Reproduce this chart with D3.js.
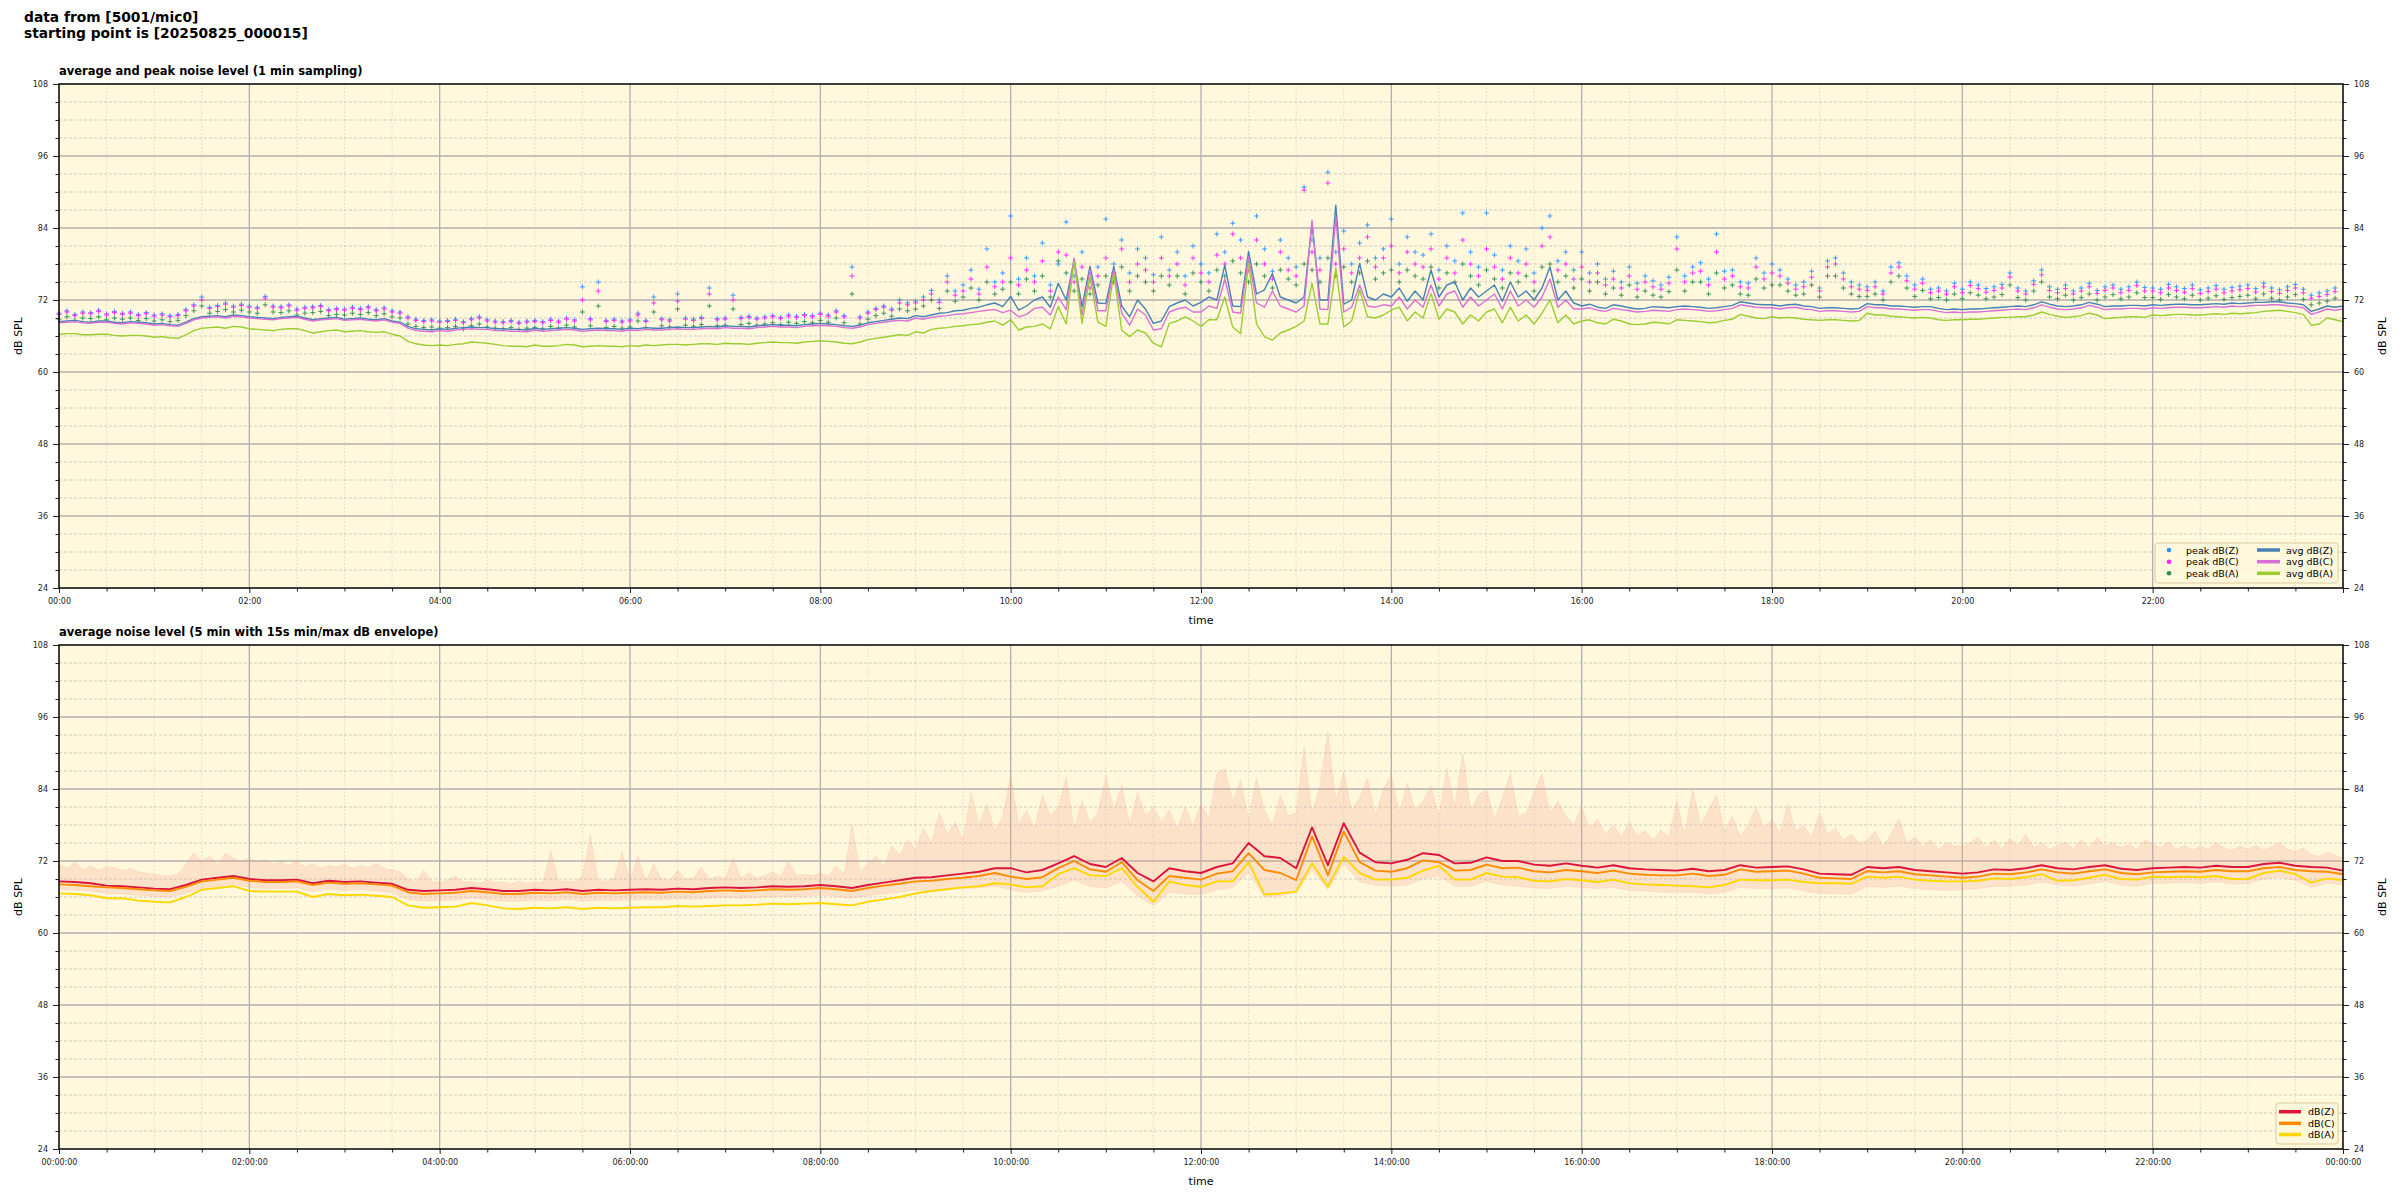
<!DOCTYPE html>
<html><head><meta charset="utf-8">
<script src="https://cdn.jsdelivr.net/npm/d3@7"></script>
<style>
body{margin:0;background:#fff;}
text{font-family:"DejaVu Sans",sans-serif;}
</style>
</head><body>
<svg id="c" width="2400" height="1200"></svg>
<script>
// ---------- tick labels / categories ----------
const topXLabels = ["00:00","02:00","04:00","06:00","08:00","10:00","12:00","14:00","16:00","18:00","20:00","22:00"];
const botXLabels = ["00:00:00","02:00:00","04:00:00","06:00:00","08:00:00","10:00:00","12:00:00","14:00:00","16:00:00","18:00:00","20:00:00","22:00:00","00:00:00"];
const yTickLabels = [24,36,48,60,72,84,96,108];
const topLegend = ["peak dB(Z)","peak dB(C)","peak dB(A)","avg dB(Z)","avg dB(C)","avg dB(A)"];
const botLegend = ["dB(Z)","dB(C)","dB(A)"];

// time grids in minutes (values read every 10 / 5 minutes)
const t10 = d3.range(0, 1441, 10);
const t5 = d3.range(0, 1441, 5);

// ---------- top panel: avg lines (read every 5 min) ----------
const avgZ = [
68.4,68.5,68.6,68.4,68.3,68.5,68.5,68.3,68.2,68.4,68.3,68.2, 68.0,68.1,67.9,67.8,68.3,68.9,69.2,69.3,69.4,69.2,69.5,69.4,
69.2,69.1,69.0,68.9,69.1,69.2,69.3,69.0,68.7,68.9,69.0,69.1, 68.8,68.9,69.0,68.8,68.7,68.9,68.5,68.3,67.6,67.2,67.1,67.0,
67.2,67.1,67.3,67.4,67.5,67.4,67.4,67.2,67.2,67.1,67.1,67.0, 67.3,67.1,67.2,67.3,67.4,67.3,67.1,67.2,67.3,67.2,67.2,67.1,
67.3,67.2,67.4,67.3,67.3,67.4,67.5,67.4,67.4,67.5,67.6,67.5, 67.7,67.6,67.6,67.5,67.7,67.8,67.9,67.8,67.8,67.7,67.9,68.0,
68.1,68.0,67.9,67.7,67.6,67.8,68.2,68.4,68.6,68.8,69.0,68.9, 69.4,69.2,69.5,69.8,69.9,70.2,70.3,70.6,70.8,71.2,71.5,70.9,
72.6,70.3,71.0,72.0,72.5,70.8,74.8,72.0,78.7,70.9,77.6,71.5, 71.4,77.6,71.0,69.2,72.0,70.5,68.1,68.5,70.9,71.5,72.0,71.0,
71.6,72.5,72.0,77.8,71.0,70.9,80.1,73.0,73.7,76.4,72.5,72.0, 71.5,72.5,84.8,72.0,72.0,87.8,71.3,72.0,78.1,72.5,72.0,73.0,
72.5,74.0,71.8,73.5,72.0,77.0,72.5,74.5,75.0,72.0,74.0,72.5, 73.5,74.5,71.8,75.0,72.5,73.5,72.0,74.0,77.5,72.0,73.5,71.5,
71.0,71.3,70.8,70.6,71.2,71.0,70.7,70.5,70.6,70.9,70.8,70.7, 70.9,71.0,70.9,70.8,70.6,70.7,70.9,71.1,71.7,71.5,71.3,71.2,
71.2,71.0,71.2,71.3,71.0,70.9,70.6,70.7,70.7,70.6,70.5,70.6, 71.4,71.2,71.2,71.0,71.0,70.9,70.8,70.9,70.9,70.6,70.4,70.5,
70.4,70.5,70.5,70.6,70.7,70.8,70.9,71.0,70.9,71.2,71.7,71.3, 71.0,70.9,71.0,71.2,71.6,71.3,70.9,71.0,71.0,71.1,71.1,71.0,
71.2,71.1,71.2,71.3,71.3,71.2,71.2,71.3,71.4,71.3,71.5,71.4, 71.5,71.6,71.6,71.7,71.7,71.5,71.4,71.2,70.1,70.5,71.0,70.8, 71.0];
const avgC = [
68.2,68.3,68.4,68.2,68.1,68.3,68.3,68.1,68.0,68.2,68.1,68.0, 67.8,67.9,67.7,67.6,68.1,68.7,69.0,69.1,69.2,69.0,69.3,69.2,
69.0,68.9,68.8,68.7,68.9,69.0,69.1,68.8,68.5,68.7,68.8,68.9, 68.6,68.7,68.8,68.6,68.5,68.7,68.3,68.1,67.3,66.9,66.8,66.7,
66.9,66.8,67.0,67.1,67.2,67.1,67.1,66.9,66.9,66.8,66.8,66.7, 67.0,66.8,66.9,67.0,67.1,67.0,66.8,66.9,67.0,66.9,66.9,66.8,
67.0,66.9,67.1,67.0,67.0,67.1,67.2,67.1,67.1,67.2,67.3,67.2, 67.4,67.3,67.3,67.2,67.4,67.5,67.6,67.5,67.5,67.4,67.6,67.7,
67.8,67.7,67.6,67.4,67.3,67.5,67.9,68.1,68.3,68.5,68.6,68.5, 69.0,68.8,69.1,69.3,69.4,69.6,69.7,69.9,70.1,70.3,70.4,69.9,
70.3,69.2,69.6,70.6,70.8,69.5,72.5,70.4,79.0,69.5,77.0,70.2, 70.2,77.0,69.8,67.8,70.5,69.5,67.0,67.2,70.0,70.5,70.8,70.0,
70.0,71.0,70.6,75.5,70.0,69.8,79.2,71.5,70.8,73.5,71.0,70.5, 70.0,71.0,85.3,70.5,70.4,85.9,70.0,70.8,74.5,71.0,70.8,71.2,
71.0,72.5,70.5,72.0,70.8,74.5,71.0,73.0,73.5,70.8,72.5,71.0, 72.0,73.0,70.5,73.5,71.0,72.0,70.8,72.5,75.5,70.8,72.0,70.5,
70.5,70.7,70.3,70.1,70.6,70.4,70.2,70.0,70.1,70.3,70.2,70.1, 70.4,70.5,70.4,70.3,70.1,70.2,70.4,70.6,71.2,71.0,70.8,70.7,
70.7,70.5,70.7,70.8,70.5,70.4,70.1,70.2,70.2,70.1,70.0,70.1, 70.9,70.7,70.7,70.5,70.5,70.4,70.3,70.4,70.4,70.1,69.9,70.0,
69.9,70.0,70.0,70.1,70.2,70.3,70.4,70.5,70.4,70.7,71.2,70.8, 70.5,70.4,70.5,70.7,71.1,70.8,70.4,70.5,70.5,70.6,70.6,70.5,
70.7,70.6,70.7,70.8,70.8,70.7,70.7,70.8,70.9,70.8,71.0,70.9, 71.0,71.1,71.1,71.2,71.2,71.0,70.9,70.7,69.6,70.0,70.5,70.3, 70.5];
const avgA = [
66.3,66.4,66.4,66.2,66.2,66.3,66.3,66.1,66.0,66.1,66.1,66.0, 65.8,65.9,65.7,65.6,66.2,66.9,67.3,67.4,67.5,67.3,67.6,67.5,
67.2,67.1,67.0,66.9,67.1,67.2,67.2,66.9,66.5,66.7,66.9,67.0, 66.7,66.8,66.9,66.7,66.6,66.7,66.3,66.0,65.1,64.7,64.5,64.4,
64.5,64.4,64.6,64.7,65.0,64.9,64.8,64.6,64.4,64.3,64.3,64.2, 64.5,64.3,64.3,64.4,64.6,64.5,64.2,64.3,64.4,64.3,64.3,64.2,
64.4,64.3,64.5,64.4,64.5,64.6,64.6,64.5,64.6,64.7,64.7,64.6, 64.8,64.7,64.7,64.6,64.8,64.9,65.0,64.9,64.9,64.8,65.0,65.1,
65.2,65.1,65.0,64.8,64.7,65.0,65.4,65.6,65.8,66.0,66.2,66.1, 66.7,66.5,67.1,67.3,67.4,67.6,67.7,67.9,68.0,68.3,68.5,67.8,
68.7,67.0,67.5,67.6,68.0,67.2,70.9,68.0,78.4,68.1,75.9,68.3, 67.6,76.4,67.0,65.9,67.0,66.5,64.8,64.2,68.1,68.5,69.2,68.5,
67.6,68.7,68.7,72.5,67.5,66.4,78.1,68.0,65.9,65.3,66.5,67.0, 67.6,68.5,74.8,68.0,68.0,77.3,67.5,68.5,73.7,69.2,69.0,69.5,
70.3,70.8,68.5,70.0,69.0,73.1,68.8,70.5,70.0,68.0,69.5,68.5, 70.0,70.5,68.2,70.8,68.5,69.5,68.0,69.8,72.0,68.2,69.5,68.0,
68.5,68.7,68.2,68.0,68.8,68.5,68.0,67.9,68.0,68.3,68.2,68.0, 68.7,68.6,68.5,68.4,68.2,68.3,68.6,68.8,69.6,69.3,69.0,68.9,
69.2,69.0,69.1,69.0,68.8,68.7,68.6,68.7,68.7,68.6,68.5,68.6, 69.8,69.5,69.5,69.3,69.2,69.1,69.0,69.1,69.0,68.7,68.6,68.7,
68.7,68.8,68.8,68.9,69.0,69.1,69.1,69.2,69.2,69.5,70.0,69.6, 69.3,69.1,69.2,69.4,69.8,69.5,68.9,69.0,69.1,69.2,69.2,69.1,
69.5,69.4,69.5,69.6,69.6,69.5,69.5,69.6,69.7,69.6,69.8,69.7, 69.8,69.9,70.1,70.2,70.3,70.1,69.9,69.6,67.8,68.0,69.0,68.7, 68.4];

// ---------- top panel: peak values (read every 5 min) ----------
const peakZ = [
69.8,70.2,69.6,70.0,69.9,70.3,69.7,70.1,69.8,70.0,69.6,69.9, 69.5,69.7,69.4,69.6,70.4,71.2,72.5,70.8,71.1,71.5,71.0,71.3,
71.0,70.8,72.6,71.0,70.9,71.2,70.5,70.8,70.9,71.1,70.4,70.6, 70.5,70.8,70.6,70.9,70.4,70.7,70.2,70.0,69.2,68.8,68.6,68.7,
68.5,68.6,68.8,68.4,68.9,69.2,68.7,68.5,68.4,68.6,68.3,68.5, 68.6,68.4,68.8,68.5,69.0,68.7,74.2,68.9,75.0,68.6,68.8,68.5,
68.7,69.8,68.6,72.5,68.9,68.7,73.0,69.0,68.8,69.1,74.0,68.9, 69.0,72.8,69.1,69.3,69.0,69.2,69.4,69.1,69.5,69.3,69.6,69.4,
69.8,69.5,70.2,69.4,77.5,69.2,70.0,70.6,71.0,70.5,72.0,71.5, 71.8,72.5,73.6,72.0,76.0,73.5,74.5,77.0,73.8,80.5,75.0,76.5,
86.0,75.5,79.0,76.0,81.5,74.5,78.0,85.0,76.0,80.0,75.2,77.5, 85.5,78.0,82.0,76.5,80.5,79.0,76.2,82.5,77.0,80.0,76.0,81.0,
78.0,76.5,83.0,80.0,84.8,82.0,78.5,86.0,80.5,76.8,82.0,79.0, 77.5,90.8,82.0,79.0,93.3,80.0,83.5,78.0,81.5,84.5,79.0,80.5,
85.5,78.0,82.5,80.0,79.5,83.0,77.0,81.0,78.5,86.5,80.0,77.5, 86.5,79.5,77.0,81.0,78.5,80.5,76.5,84.0,86.0,78.5,80.0,77.0,
80.0,76.5,78.0,75.5,76.8,75.0,77.5,74.8,76.0,75.2,74.5,75.8, 82.5,76.0,77.5,78.2,75.5,83.0,76.8,77.0,75.0,74.8,79.0,76.5,
78.0,77.0,75.5,74.5,75.0,76.8,74.0,78.5,79.0,76.5,75.0,74.5, 74.2,75.0,73.5,77.5,78.2,76.0,74.5,75.5,73.8,74.0,73.5,74.8,
73.8,75.0,74.5,73.9,74.2,74.6,76.5,74.0,73.5,75.2,77.0,74.2, 73.8,74.5,73.5,74.0,74.8,73.6,74.2,74.5,73.8,74.2,75.0,74.1,
74.0,73.8,74.6,74.2,73.9,74.5,73.7,74.0,74.4,73.8,74.1,74.3, 74.5,73.9,74.8,74.0,73.7,74.2,74.6,73.8,72.8,73.2,73.5,74.0];
const peakC = [
69.6,70.0,69.4,69.8,69.7,70.1,69.5,69.9,69.6,69.8,69.4,69.7, 69.3,69.5,69.2,69.4,70.2,71.0,72.0,70.6,70.9,71.3,70.8,71.1,
70.8,70.6,72.3,70.8,70.7,71.0,70.3,70.6,70.7,70.9,70.2,70.4, 70.3,70.6,70.4,70.7,70.2,70.5,70.0,69.8,69.0,68.6,68.4,68.5,
68.3,68.4,68.6,68.2,68.7,69.0,68.5,68.3,68.2,68.4,68.1,68.3, 68.4,68.2,68.6,68.3,68.8,68.5,72.0,68.7,73.5,68.4,68.6,68.3,
68.5,69.5,68.4,71.5,68.7,68.5,71.8,68.8,68.6,68.9,73.0,68.7, 68.8,72.0,68.9,69.1,68.8,69.0,69.2,68.9,69.3,69.1,69.4,69.2,
69.6,69.3,70.0,69.2,76.0,69.0,69.8,70.4,70.8,70.3,71.5,71.2, 71.5,72.0,73.0,71.6,75.0,72.8,73.5,75.5,73.0,77.5,74.2,75.0,
79.0,74.5,77.0,75.0,78.5,73.5,80.0,79.5,75.0,77.5,74.0,76.0, 79.0,76.5,80.5,75.0,78.0,77.0,75.0,79.0,76.0,78.0,74.5,79.0,
76.5,75.0,79.5,78.0,83.0,79.0,77.0,82.0,78.0,75.5,80.0,77.0, 76.0,90.3,80.0,77.0,91.5,78.0,80.5,76.5,79.0,82.5,77.5,79.0,
81.0,76.5,80.0,78.0,77.5,80.5,75.5,79.0,76.5,82.0,78.0,76.0, 80.5,77.5,75.5,79.0,76.5,78.0,75.0,81.0,82.5,77.0,78.0,75.5,
77.5,75.0,76.5,74.5,75.5,74.0,76.0,73.8,75.0,74.2,73.8,74.8, 80.5,75.0,76.5,76.8,74.5,80.0,75.5,76.0,74.2,74.0,77.5,75.5,
76.5,76.0,74.8,73.8,74.2,75.8,73.5,77.5,78.0,75.5,74.2,73.8, 73.6,74.2,73.0,76.5,77.5,75.2,73.8,74.8,73.2,73.5,73.0,74.2,
73.2,74.4,73.9,73.3,73.6,74.0,75.8,73.5,73.0,74.6,76.2,73.6, 73.2,73.9,73.0,73.5,74.2,73.1,73.6,74.0,73.2,73.6,74.4,73.5,
73.5,73.2,74.0,73.6,73.3,73.9,73.1,73.4,73.8,73.2,73.5,73.7, 73.9,73.3,74.2,73.4,73.1,73.6,74.0,73.2,72.3,72.6,72.9,73.4];
const peakA = [
68.8,69.2,68.6,69.0,68.9,69.2,68.7,69.0,68.8,69.0,68.6,68.9, 68.5,68.7,68.4,68.6,69.4,70.2,71.0,69.8,70.1,70.4,70.0,70.3,
70.0,69.8,71.2,70.0,69.9,70.2,69.5,69.8,69.9,70.1,69.4,69.6, 69.5,69.8,69.6,69.9,69.4,69.7,69.2,69.0,68.0,67.6,67.4,67.5,
67.3,67.4,67.6,67.2,67.7,68.0,67.5,67.3,67.2,67.4,67.1,67.3, 67.4,67.2,67.6,67.3,67.8,67.5,70.0,67.7,71.0,67.4,67.6,67.3,
67.5,68.5,67.4,70.0,67.7,67.5,70.5,67.8,67.6,67.9,71.0,67.7, 67.8,70.5,67.9,68.1,67.8,68.0,68.2,67.9,68.3,68.1,68.4,68.2,
68.6,68.3,69.0,68.2,73.0,68.0,68.8,69.4,69.8,69.3,70.5,70.2, 70.5,71.0,72.0,70.6,73.5,71.8,72.5,74.0,72.0,75.0,73.0,73.8,
75.0,73.0,75.5,73.5,76.0,72.5,78.5,76.5,73.5,75.5,73.0,74.5, 76.0,75.0,77.5,73.5,76.0,75.0,73.5,76.0,74.5,76.0,73.0,76.5,
75.0,73.5,77.0,76.0,78.5,76.5,75.0,78.0,76.0,74.0,77.0,75.5, 74.5,78.0,77.0,75.0,79.0,76.0,77.5,75.0,76.5,78.5,75.5,76.5,
77.0,75.0,77.0,76.0,75.5,77.5,74.0,76.5,75.0,78.0,76.0,74.5, 77.0,75.5,74.0,76.5,75.0,76.0,73.5,77.5,78.0,75.0,76.0,74.0,
75.5,73.5,75.0,73.0,74.0,72.8,74.5,72.5,73.5,72.8,72.5,73.4, 77.0,73.5,75.0,75.0,73.0,76.5,74.0,74.5,73.0,72.8,75.5,74.0,
74.5,74.5,73.5,72.8,73.0,74.5,72.5,76.0,76.0,74.0,73.0,72.6, 72.6,73.0,72.0,75.0,76.0,74.0,72.6,73.6,72.2,72.4,72.0,73.0,
72.2,73.2,72.8,72.2,72.5,72.9,74.5,72.4,72.0,73.5,75.0,72.5, 72.2,72.8,72.0,72.4,73.0,72.0,72.5,72.9,72.2,72.5,73.2,72.4,
72.4,72.1,72.9,72.5,72.2,72.8,72.0,72.3,72.7,72.1,72.4,72.6, 72.8,72.2,73.0,72.3,72.0,72.5,72.9,72.1,71.2,71.5,71.8,72.3];

// ---------- bottom panel: 5-min averages (read every 10 min) ----------
const dbZ = [
68.6,68.5,68.3,67.9,67.8,67.6, 67.4,67.3,68.0,68.9,69.2,69.5, 69.0,68.8,68.8,68.9,68.3,68.7, 68.5,68.6,68.4,68.2,67.2,67.0,
67.1,67.2,67.5,67.3,67.0,67.0, 67.2,67.1,67.3,67.0,67.2,67.1, 67.2,67.3,67.2,67.4,67.3,67.5, 67.6,67.5,67.6,67.8,67.7,67.8,
68.0,67.8,67.5,68.0,68.4,68.8, 69.2,69.3,69.6,69.9,70.2,70.8, 70.8,70.1,70.5,71.6,72.8,71.5, 71.0,72.5,70.0,68.6,70.8,70.3,
70.0,71.0,71.6,75.0,72.8,72.5, 70.8,77.6,71.3,78.3,73.4,71.8, 71.6,72.2,73.3,73.0,71.6,71.7, 72.6,72.0,72.0,71.4,71.2,71.6,
71.2,70.9,71.3,70.8,70.6,70.5, 70.4,70.7,70.3,70.5,71.3,70.9, 71.0,71.1,70.6,69.9,69.8,69.7, 71.0,70.8,71.0,70.5,70.3,70.1,
69.9,70.1,70.6,70.5,70.8,71.3, 70.8,70.6,71.0,71.3,70.7,70.5, 70.8,70.9,71.0,70.9,71.2,71.0, 71.0,71.5,71.7,71.2,71.0,70.9, 70.4];
const dbC = [
68.1,68.0,67.8,67.6,67.5,67.3, 67.1,67.0,67.7,68.6,68.9,69.2, 68.7,68.5,68.5,68.6,68.0,68.4, 68.2,68.3,68.1,67.9,66.8,66.5,
66.6,66.7,67.0,66.8,66.5,66.5, 66.7,66.6,66.8,66.5,66.7,66.6, 66.7,66.8,66.7,66.9,66.8,67.0, 67.1,67.0,67.1,67.3,67.2,67.3,
67.5,67.3,67.0,67.5,67.9,68.2, 68.6,68.7,69.0,69.2,69.5,70.0, 69.4,69.0,69.3,70.8,72.0,70.6, 70.2,71.8,68.8,67.0,69.5,69.2,
68.9,69.9,70.3,73.3,70.5,70.0, 68.8,76.1,69.6,76.9,71.8,70.4, 70.2,70.8,72.1,71.8,70.4,70.5, 71.4,70.8,70.9,70.3,70.1,70.5,
70.3,70.0,70.4,69.9,69.7,69.6, 69.6,69.9,69.5,69.7,70.6,70.2, 70.3,70.4,69.9,69.2,69.1,69.0, 70.3,70.1,70.3,69.8,69.6,69.4,
69.2,69.4,69.9,69.8,70.1,70.6, 70.1,69.9,70.3,70.6,70.0,69.8, 70.1,70.2,70.3,70.2,70.5,70.3, 70.3,70.8,71.0,70.5,70.3,70.2, 69.8];
const dbA = [
66.6,66.5,66.3,65.8,65.8,65.4, 65.2,65.1,66.0,67.2,67.5,67.8, 67.0,66.9,66.9,66.9,66.0,66.5, 66.3,66.4,66.2,66.0,64.6,64.2,
64.3,64.4,65.0,64.6,64.1,64.0, 64.2,64.1,64.3,64.0,64.2,64.1, 64.2,64.3,64.3,64.5,64.4,64.5, 64.6,64.6,64.7,64.9,64.8,64.9,
65.0,64.8,64.6,65.2,65.6,66.0, 66.6,67.0,67.3,67.6,67.8,68.3, 68.1,67.6,67.8,69.8,70.8,69.6, 69.5,70.8,67.7,65.2,68.6,68.0,
67.7,68.6,68.6,71.8,66.4,66.6, 66.9,71.6,67.7,72.7,70.0,68.9, 68.9,69.2,70.4,71.2,68.9,68.9, 70.0,69.4,69.3,68.7,68.6,69.0,
68.8,68.5,68.9,68.3,68.1,68.0, 67.9,67.8,67.6,68.0,68.9,68.8, 68.8,68.9,68.5,68.3,68.3,68.2, 69.4,69.2,69.4,68.9,68.7,68.6,
68.6,68.7,69.1,69.0,69.3,69.8, 68.7,68.8,69.2,69.7,69.0,68.9, 69.4,69.3,69.4,69.3,69.5,69.0, 69.0,70.0,70.4,69.8,68.4,69.1, 68.8];

// ---------- bottom panel: 15 s min/max envelope ----------
const envMax = [ // read every 5 min
71.5,70.8,71.8,70.6,71.2,70.5,71.0,70.9,70.4,70.8,70.2,70.0, 69.8,69.6,69.5,69.8,71.5,73.4,72.0,72.8,71.5,73.3,72.4,72.0,
72.5,71.8,72.2,71.5,71.9,71.2,72.0,71.0,71.6,70.8,71.3,71.0, 71.5,70.8,71.2,70.9,71.6,70.8,70.5,70.2,69.0,68.5,70.5,68.6,
68.4,68.8,69.5,68.5,68.6,68.3,68.8,68.4,68.5,68.2,68.6,68.3, 68.5,68.4,73.8,68.6,68.7,68.5,69.5,76.3,68.8,68.6,69.2,73.5,
68.8,72.8,68.6,71.5,69.0,68.8,70.5,68.9,69.2,71.0,68.9,69.5, 69.0,72.5,69.2,70.0,69.1,69.6,70.2,69.4,72.0,69.5,69.8,69.6,
70.0,69.5,71.2,69.8,78.0,70.2,71.5,72.8,71.0,74.5,73.0,75.5, 74.0,77.5,75.0,80.0,76.5,78.5,75.5,83.5,78.0,81.5,77.0,79.5,
86.3,78.0,80.5,77.5,83.0,79.5,81.0,86.0,77.5,82.0,78.5,80.0, 86.3,80.5,84.7,78.0,83.5,79.5,81.0,78.5,80.5,77.5,81.0,78.0,
81.5,79.0,86.6,87.4,82.0,85.5,79.0,85.8,80.5,78.0,83.0,79.5, 80.0,91.1,80.0,84.5,93.6,82.0,86.9,80.5,82.5,85.8,79.5,84.0,
86.5,80.0,85.0,80.5,82.0,84.5,79.5,87.4,81.0,89.9,80.5,83.0, 84.0,79.0,82.5,86.7,79.5,80.0,83.5,86.5,80.0,82.0,79.5,78.0,
81.0,77.5,79.0,76.5,78.0,76.0,78.5,76.2,77.0,75.5,77.2,76.0, 82.0,76.5,84.0,78.0,80.5,83.0,77.0,79.5,76.0,78.0,81.0,77.5,
79.0,76.5,81.5,77.0,78.0,76.0,80.0,76.5,77.5,75.5,76.5,75.0, 75.5,77.0,74.5,76.5,79.0,75.0,76.0,74.5,75.5,74.0,75.0,74.5,
74.5,75.0,76.0,74.2,75.5,74.0,75.8,74.5,76.5,74.2,75.0,74.0, 74.5,75.2,74.0,75.5,74.2,76.0,74.5,75.0,74.2,74.8,74.0,75.5,
74.8,74.2,75.2,74.0,74.6,73.8,74.5,74.0,75.0,74.2,73.8,74.5, 74.0,74.6,73.8,74.4,75.0,74.0,73.6,74.2,73.0,72.8,73.5,73.0, 72.5];
const envMin = [ // read every 10 min
67.3,67.2,67.0,66.6,66.5,66.3, 66.1,66.0,66.6,67.5,67.8,68.1, 67.6,67.4,67.4,67.5,66.9,67.3, 67.1,67.2,67.0,66.7,65.6,65.3,
65.4,65.5,65.8,65.6,65.3,65.3, 65.5,65.4,65.6,65.3,65.5,65.4, 65.5,65.6,65.5,65.7,65.6,65.8, 65.9,65.8,65.9,66.1,66.0,66.1,
66.3,66.1,65.8,66.2,66.5,66.8, 67.2,67.0,67.2,67.4,67.5,67.8, 67.2,66.8,67.0,67.8,68.8,67.8, 67.5,68.6,66.2,64.5,66.8,66.5,
66.4,67.2,67.6,70.0,66.0,66.2, 66.8,70.5,67.2,71.5,68.5,68.0, 67.8,68.0,69.0,69.5,67.8,67.8, 68.6,68.0,67.8,67.5,67.4,67.8,
67.6,67.4,67.6,67.1,67.0,66.8, 66.8,66.8,66.5,66.8,67.6,67.4, 67.4,67.5,67.0,66.6,66.6,66.5, 67.8,67.6,67.8,67.4,67.2,67.1,
67.2,67.4,67.8,67.8,68.0,68.5, 68.0,67.8,68.2,68.6,68.0,67.8, 68.3,68.3,68.4,68.3,68.5,68.2, 68.2,69.0,69.3,68.8,67.6,68.3, 68.0];

// ---------- colours ----------
const cPeak = ["#2a93ff","#ff20ff","#2e8b57"];
const cAvg = ["#4682b4","#da70d6","#9acd32"];
const cBot = ["#dc143c","#ff8c00","#ffd700"];
const bg = "#fff8dc";

const svg = d3.select("#c");
const X0 = 59, X1 = 2343;
const x = d3.scaleLinear().domain([0,1440]).range([X0, X1]);
const FONT = "DejaVu Sans";

function panel(top, bottom){
  const y = d3.scaleLinear().domain([24,108]).range([bottom, top]);
  const g = svg.append("g");
  g.append("rect").attr("x",X0).attr("y",top).attr("width",X1-X0).attr("height",bottom-top).attr("fill",bg);
  g.append("g").selectAll("line").data(d3.range(30,1440,30).filter(m=>m%120)).join("line")
    .attr("x1",d=>x(d)).attr("x2",d=>x(d)).attr("y1",top).attr("y2",bottom)
    .attr("stroke","#d8d2c4").attr("stroke-width",0.8).attr("stroke-dasharray","1.5,2");
  g.append("g").selectAll("line").data(d3.range(27,108,3).filter(v=>(v-24)%12)).join("line")
    .attr("x1",X0).attr("x2",X1).attr("y1",d=>y(d)).attr("y2",d=>y(d))
    .attr("stroke","#c4c0b6").attr("stroke-width",0.8).attr("stroke-dasharray","3,2");
  g.append("g").selectAll("line").data(d3.range(120,1440,120)).join("line")
    .attr("x1",d=>x(d)).attr("x2",d=>x(d)).attr("y1",top).attr("y2",bottom)
    .attr("stroke","#b0b0b0").attr("stroke-width",1.3);
  g.append("g").selectAll("line").data(yTickLabels.slice(1,-1)).join("line")
    .attr("x1",X0).attr("x2",X1).attr("y1",d=>y(d)).attr("y2",d=>y(d))
    .attr("stroke","#b0b0b0").attr("stroke-width",1.3);
  const data = svg.append("g");
  const ax = svg.append("g");
  return {y, data, ax, top, bottom};
}

function axes(p, labels){
  const {y, ax, top, bottom} = p;
  const tickStyle = sel => { sel.select(".domain").remove(); sel.selectAll("text").attr("font-family",FONT).attr("font-size","8px").attr("fill","#222"); sel.selectAll("line").attr("stroke","#222"); };
  const minorY = d3.range(27,108,3).filter(v=>(v-24)%12);
  ax.append("g").attr("transform",`translate(0,${bottom})`)
    .call(d3.axisBottom(x).tickValues(d3.range(0,1441,120)).tickSize(5).tickPadding(5)
      .tickFormat((d,i)=> labels[i] === undefined ? "" : labels[i])).call(tickStyle);
  ax.append("g").attr("transform",`translate(0,${bottom})`)
    .call(d3.axisBottom(x).tickValues(d3.range(30,1440,30).filter(m=>m%120)).tickSize(3.5).tickFormat("")).call(tickStyle);
  ax.append("g").attr("transform",`translate(${X0},0)`)
    .call(d3.axisLeft(y).tickValues(yTickLabels).tickSize(6).tickPadding(5)).call(tickStyle);
  ax.append("g").attr("transform",`translate(${X0},0)`)
    .call(d3.axisLeft(y).tickValues(minorY).tickSize(3.5).tickFormat("")).call(tickStyle);
  ax.append("g").attr("transform",`translate(${X1},0)`)
    .call(d3.axisRight(y).tickValues(yTickLabels).tickSize(6).tickPadding(5)).call(tickStyle);
  ax.append("g").attr("transform",`translate(${X1},0)`)
    .call(d3.axisRight(y).tickValues(minorY).tickSize(3.5).tickFormat("")).call(tickStyle);
  ax.append("rect").attr("x",X0).attr("y",top).attr("width",X1-X0).attr("height",bottom-top)
    .attr("fill","none").attr("stroke","#000").attr("stroke-width",1.5);
  const mid = (top+bottom)/2;
  ax.append("text").attr("transform",`translate(22,${mid}) rotate(-90)`).attr("text-anchor","middle")
    .attr("font-family",FONT).attr("font-size","11px").text("dB SPL");
  ax.append("text").attr("transform",`translate(2386,${mid}) rotate(-90)`).attr("text-anchor","middle")
    .attr("font-family",FONT).attr("font-size","11px").text("dB SPL");
  ax.append("text").attr("x",(X0+X1)/2).attr("y",bottom+36).attr("text-anchor","middle")
    .attr("font-family",FONT).attr("font-size","11px").text("time");
}

// ---------- figure titles ----------
svg.append("text").attr("x",24).attr("y",22).attr("font-family",FONT).attr("font-weight","bold").attr("font-size","13.8px").text("data from [5001/mic0]");
svg.append("text").attr("x",24).attr("y",38).attr("font-family",FONT).attr("font-weight","bold").attr("font-size","13.8px").text("starting point is [20250825_000015]");
svg.append("text").attr("x",59).attr("y",75).attr("font-family",FONT).attr("font-weight","bold").attr("font-size","11.5px").text("average and peak noise level (1 min sampling)");
svg.append("text").attr("x",59).attr("y",636).attr("font-family",FONT).attr("font-weight","bold").attr("font-size","11.5px").text("average noise level (5 min with 15s min/max dB envelope)");

// ---------- top panel ----------
const P1 = panel(84, 588);
const plus = "M-2.5,0H2.5M0,-2.5V2.5";
[peakZ, peakC, peakA].forEach((arr, k) => {
  P1.data.append("g").selectAll("path").data(arr.map((v,i)=>[t5[i], v])).join("path")
    .attr("transform", d => `translate(${x(d[0])},${P1.y(d[1])})`)
    .attr("d", plus).attr("stroke", cPeak[k]).attr("stroke-width", 1).attr("fill","none").attr("opacity",0.9);
});
[avgZ, avgC, avgA].forEach((arr, k) => {
  const line = d3.line().x((v,i)=>x(t5[i])).y(v=>P1.y(v));
  P1.data.append("path").attr("d", line(arr)).attr("fill","none").attr("stroke", cAvg[k]).attr("stroke-width",1.4).attr("stroke-linejoin","round");
});
axes(P1, topXLabels);

(function(){
  const lg = svg.append("g");
  lg.append("rect").attr("x",2155).attr("y",543).attr("width",183).attr("height",40).attr("rx",3)
    .attr("fill",bg).attr("fill-opacity",0.85).attr("stroke","#dcc9a0").attr("stroke-width",1);
  [550, 561.7, 573.3].forEach((ry, k) => {
    lg.append("circle").attr("cx",2169).attr("cy",ry).attr("r",2.3).attr("fill",cPeak[k]);
    lg.append("text").attr("x",2186).attr("y",ry+3.5).attr("font-family",FONT).attr("font-size","9.5px").text(topLegend[k]);
    lg.append("line").attr("x1",2257).attr("x2",2280).attr("y1",ry).attr("y2",ry).attr("stroke",cAvg[k]).attr("stroke-width",3.5);
    lg.append("text").attr("x",2286).attr("y",ry+3.5).attr("font-family",FONT).attr("font-size","9.5px").text(topLegend[k+3]);
  });
})();

// ---------- bottom panel ----------
const P2 = panel(645, 1149);
(function(){
  const upper = envMax.map((v,i)=>[x(t5[i]), P2.y(v)]);
  const lower = envMin.map((v,i)=>[x(t10[i]), P2.y(v)]).reverse();
  P2.data.append("path").attr("d", d3.line()(upper.concat(lower)) + "Z")
    .attr("fill","#f4a08c").attr("fill-opacity",0.24).attr("stroke","#f4a08c").attr("stroke-opacity",0.3).attr("stroke-width",0.6);
})();
[dbZ, dbC, dbA].forEach((arr, k) => {
  const line = d3.line().x((v,i)=>x(t10[i])).y(v=>P2.y(v));
  P2.data.append("path").attr("d", line(arr)).attr("fill","none").attr("stroke", cBot[k]).attr("stroke-width",1.9).attr("stroke-linejoin","round");
});
axes(P2, botXLabels);

(function(){
  const lg = svg.append("g");
  lg.append("rect").attr("x",2276).attr("y",1103).attr("width",62).attr("height",41).attr("rx",3)
    .attr("fill",bg).attr("fill-opacity",0.85).attr("stroke","#dcc9a0").attr("stroke-width",1);
  [1111.7, 1123.3, 1134.5].forEach((ry,k)=>{
    lg.append("line").attr("x1",2279).attr("x2",2301).attr("y1",ry).attr("y2",ry).attr("stroke",cBot[k]).attr("stroke-width",3.5);
    lg.append("text").attr("x",2308).attr("y",ry+3.5).attr("font-family",FONT).attr("font-size","9.5px").text(botLegend[k]);
  });
})();
</script>
</body></html>
